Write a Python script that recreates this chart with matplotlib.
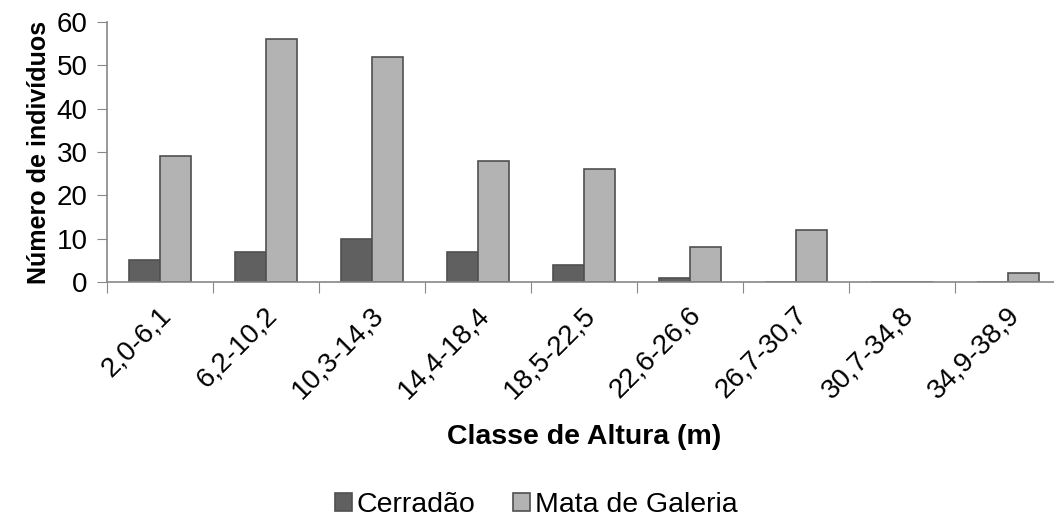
import numpy as np
import matplotlib.pyplot as plt

plt.rcParams['font.family'] = ['Liberation Sans', 'DejaVu Sans']

classes = ["2,0-6,1", "6,2-10,2", "10,3-14,3", "14,4-18,4", "18,5-22,5",
           "22,6-26,6", "26,7-30,7", "30,7-34,8", "34,9-38,9"]
cerradao = [5, 7, 10, 7, 4, 1, 0, 0, 0]
mata = [29, 56, 52, 28, 26, 8, 12, 0, 2]

fig = plt.figure(figsize=(10.54, 5.21), dpi=100)
ax = fig.add_axes([107 / 1054, 239 / 521, 954 / 1054, 260 / 521])

x = np.arange(len(classes))
w = 0.29
ax.bar(x - w / 2, cerradao, w, color="#606060", edgecolor="#505050", linewidth=1.2, label="Cerradão")
ax.bar(x + w / 2, mata, w, color="#b3b3b3", edgecolor="#505050", linewidth=1.2, label="Mata de Galeria")

ax.set_xlim(-0.5, len(classes) - 0.5)
ax.set_ylim(0, 60)
ax.set_yticks(range(0, 61, 10))
ax.tick_params(axis="y", labelsize=20, length=7, color="#888888", direction="out", pad=7)
ax.set_xticks(np.arange(len(classes) + 1) - 0.5, minor=False)
ax.set_xticklabels([])
ax.set_xticks(x + 0.07, minor=True)
ax.set_xticklabels(classes, minor=True, rotation=45, ha="right", va="center",
                   rotation_mode="anchor", fontsize=20)
ax.tick_params(axis="x", which="major", length=8, color="#888888")
ax.tick_params(axis="x", which="minor", length=0, pad=21)

for s in ["top", "right"]:
    ax.spines[s].set_visible(False)
for s in ["left", "bottom"]:
    ax.spines[s].set_color("#888888")
    ax.spines[s].set_linewidth(1.2)

ax.set_ylabel("Número de indivíduos", fontsize=18, fontweight="bold", labelpad=4)
fig.text(584, 521 - 437, "Classe de Altura (m)", fontsize=20.5, fontweight="bold",
         ha="center", va="center", transform=None)

fig.legend(loc="center", bbox_to_anchor=(536 / 1054, 1 - 505 / 521), ncol=2, frameon=False,
           fontsize=20.5, handlelength=0.6, handleheight=0.6, handletextpad=0.18, columnspacing=1.3,
           borderaxespad=0)

fig.savefig("out.png", dpi=100)
